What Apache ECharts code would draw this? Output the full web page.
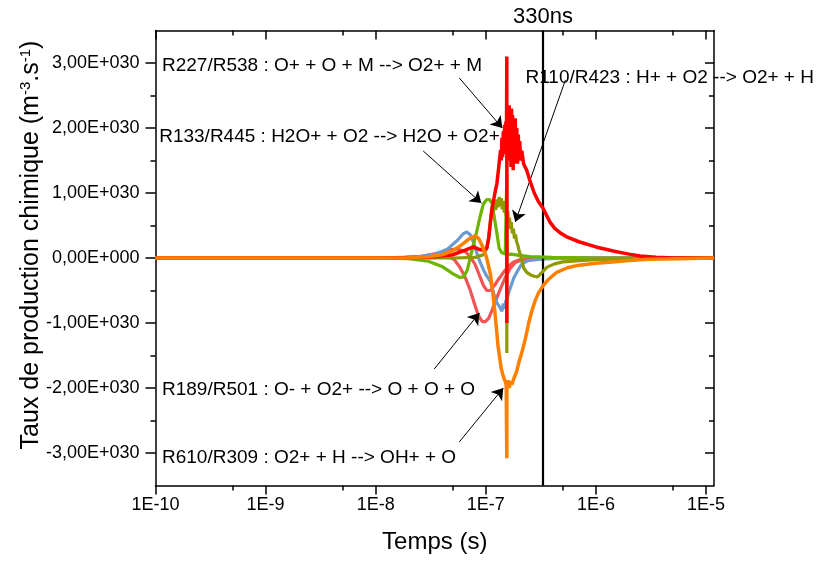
<!DOCTYPE html>
<html><head><meta charset="utf-8">
<script src="https://cdn.jsdelivr.net/npm/echarts@6/dist/echarts.min.js"></script>
<style>html,body{margin:0;padding:0;background:#fff}#c{width:822px;height:563px}</style>
</head><body><div id="c"></div>
<script>
// ---------- DATA (time in s, rate in units of 1E+030 m-3.s-1) ----------
const SCALE = 1e30;
const xTickExps = [-10, -9, -8, -7, -6, -5];
const xTickLabels = ['1E-10', '1E-9', '1E-8', '1E-7', '1E-6', '1E-5'];
const xMinorTimes = [5e-10, 5e-9, 5e-8, 5e-7, 5e-6];
const yTickValues = [-3, -2, -1, 0, 1, 2, 3];
const yTickLabels = ['-3,00E+030', '-2,00E+030', '-1,00E+030', '0,00E+000', '1,00E+030', '2,00E+030', '3,00E+030'];
const yMinorValues = [-2.5, -1.5, -0.5, 0.5, 1.5, 2.5];
const tMin = 1e-10, tMax = 1.18e-5;
const yMin = -3.5, yMax = 3.5;
const markerTime = 3.3e-7; // 330ns

// R227/R538 : O+ + O + M --> O2+ + M
const r227 = [[1e-10,0],[1e-8,0],[3e-8,0.01],[5e-8,0.05],[6.5e-8,0.12],[7.7e-8,0.17],[8.8e-8,0.13],[9.6e-8,0.12],[1.02e-7,0.15],[1.06e-7,0.3],[1.1e-7,0.55],[1.15e-7,0.8],[1.2e-7,0.97],[1.26e-7,1.15],[1.31e-7,1.4],[1.36e-7,1.66],[1.38e-7,1.5],[1.4e-7,1.85],[1.42e-7,1.55],[1.44e-7,1.95],[1.46e-7,1.6],[1.48e-7,2.05],[1.5e-7,1.75],[1.52e-7,2.1],[1.54e-7,1.9],[1.55e-7,3.1],[1.551e-7,-1.0],[1.555e-7,2.0],[1.57e-7,1.55],[1.59e-7,2.3],[1.61e-7,1.5],[1.63e-7,2.35],[1.65e-7,1.7],[1.67e-7,2.25],[1.69e-7,1.4],[1.71e-7,2.3],[1.73e-7,1.75],[1.75e-7,2.2],[1.77e-7,1.35],[1.79e-7,2.1],[1.82e-7,1.6],[1.85e-7,2.15],[1.88e-7,1.45],[1.91e-7,2.0],[1.94e-7,1.45],[1.97e-7,1.9],[2.0e-7,1.5],[2.03e-7,1.8],[2.07e-7,1.5],[2.12e-7,1.65],[2.2e-7,1.45],[2.35e-7,1.35],[2.5e-7,1.2],[2.75e-7,1.0],[3.0e-7,0.87],[3.3e-7,0.77],[3.8e-7,0.56],[4.2e-7,0.46],[4.8e-7,0.38],[5.5e-7,0.32],[7e-7,0.25],[1e-6,0.17],[1.5e-6,0.1],[2e-6,0.06],[2.5e-6,0.03],[3.5e-6,0.01],[5e-6,0],[1.18e-5,0]];
// R610/R309 : O2+ + H --> OH+ + O
const r610 = [[1e-10,0],[1e-8,0],[2e-8,0.005],[3e-8,0.02],[4e-8,0.05],[5e-8,0.11],[6e-8,0.2],[7e-8,0.29],[8e-8,0.34],[8.6e-8,0.3],[9.2e-8,0.2],[9.7e-8,0.1],[1.01e-7,0.02],[1.05e-7,-0.1],[1.1e-7,-0.25],[1.15e-7,-0.5],[1.2e-7,-0.78],[1.25e-7,-1.1],[1.29e-7,-1.35],[1.34e-7,-1.55],[1.38e-7,-1.7],[1.42e-7,-1.78],[1.46e-7,-1.85],[1.5e-7,-1.9],[1.53e-7,-1.95],[1.55e-7,-3.08],[1.552e-7,-1.92],[1.57e-7,-1.97],[1.6e-7,-1.88],[1.63e-7,-2.0],[1.67e-7,-1.9],[1.72e-7,-1.95],[1.8e-7,-1.85],[1.9e-7,-1.75],[2.0e-7,-1.6],[2.15e-7,-1.42],[2.3e-7,-1.22],[2.45e-7,-1.0],[2.6e-7,-0.83],[2.8e-7,-0.66],[3.0e-7,-0.54],[3.3e-7,-0.43],[3.7e-7,-0.33],[4.4e-7,-0.22],[5.5e-7,-0.15],[7e-7,-0.11],[1e-6,-0.08],[1.4e-6,-0.06],[2e-6,-0.04],[3e-6,-0.02],[5.7e-6,-0.01],[1.18e-5,0]];
// R133/R445 : H2O+ + O2 --> H2O + O2+
const r133 = [[1e-10,0],[1e-8,0],[2e-8,-0.01],[3e-8,-0.05],[4e-8,-0.13],[5e-8,-0.24],[5.8e-8,-0.3],[6.3e-8,-0.29],[6.8e-8,-0.18],[7.2e-8,0.0],[7.7e-8,0.2],[8.3e-8,0.42],[8.9e-8,0.65],[9.5e-8,0.83],[1.02e-7,0.9],[1.08e-7,0.9],[1.14e-7,0.84],[1.2e-7,0.6],[1.26e-7,0.38],[1.32e-7,0.15],[1.4e-7,0.08],[1.5e-7,0.06],[1.548e-7,0.05],[1.55e-7,1.28],[1.552e-7,0.05],[1.7e-7,0.06],[2e-7,0.04],[2.5e-7,0.02],[4e-7,0.01],[1e-6,0.0],[1.18e-5,0]];
// R110/R423 : H+ + O2 --> O2+ + H
const r110 = [[1e-10,0],[1e-8,0],[5e-8,0.0],[8e-8,0.01],[9.5e-8,0.05],[1.02e-7,0.15],[1.07e-7,0.35],[1.11e-7,0.65],[1.14e-7,0.8],[1.17e-7,0.7],[1.2e-7,0.85],[1.23e-7,0.74],[1.26e-7,0.9],[1.29e-7,0.78],[1.32e-7,0.94],[1.35e-7,0.8],[1.38e-7,0.92],[1.41e-7,0.75],[1.44e-7,0.88],[1.47e-7,0.7],[1.5e-7,0.8],[1.53e-7,0.65],[1.549e-7,0.7],[1.55e-7,-1.46],[1.552e-7,0.62],[1.58e-7,0.72],[1.61e-7,0.5],[1.64e-7,0.62],[1.67e-7,0.45],[1.7e-7,0.55],[1.74e-7,0.38],[1.78e-7,0.45],[1.82e-7,0.3],[1.86e-7,0.36],[1.9e-7,0.25],[1.95e-7,0.2],[2.0e-7,0.12],[2.1e-7,0.0],[2.2e-7,-0.15],[2.35e-7,-0.22],[2.55e-7,-0.26],[2.75e-7,-0.28],[2.95e-7,-0.29],[3.2e-7,-0.23],[3.6e-7,-0.14],[4.2e-7,-0.09],[5e-7,-0.06],[7e-7,-0.04],[1e-6,-0.025],[2e-6,-0.01],[4e-6,0],[1.18e-5,0]];
// blue reaction
const rBlue = [[1e-10,0],[1.5e-8,0],[2.5e-8,0.02],[3.5e-8,0.06],[4.5e-8,0.14],[5.5e-8,0.27],[6.2e-8,0.37],[6.7e-8,0.4],[7.2e-8,0.36],[7.7e-8,0.25],[8.2e-8,0.1],[8.8e-8,-0.05],[9.5e-8,-0.18],[1.02e-7,-0.28],[1.1e-7,-0.36],[1.18e-7,-0.55],[1.26e-7,-0.69],[1.32e-7,-0.74],[1.36e-7,-0.72],[1.4e-7,-0.82],[1.44e-7,-0.7],[1.48e-7,-0.78],[1.52e-7,-0.66],[1.56e-7,-0.62],[1.62e-7,-0.52],[1.7e-7,-0.42],[1.8e-7,-0.3],[1.94e-7,-0.2],[2.1e-7,-0.1],[2.4e-7,-0.04],[3e-7,-0.02],[5e-7,0],[1.18e-5,0]];
// R189/R501 : O- + O2+ --> O + O + O
const r189 = [[1e-10,0],[1.5e-8,0],[2.5e-8,0.01],[3.5e-8,0.03],[4.5e-8,0.03],[5.2e-8,-0.03],[5.8e-8,-0.14],[6.5e-8,-0.3],[7.2e-8,-0.49],[7.8e-8,-0.68],[8.3e-8,-0.82],[8.8e-8,-0.92],[9.3e-8,-0.98],[9.9e-8,-0.98],[1.06e-7,-0.93],[1.14e-7,-0.8],[1.25e-7,-0.62],[1.36e-7,-0.47],[1.5e-7,-0.3],[1.66e-7,-0.16],[1.85e-7,-0.07],[2.2e-7,-0.02],[3e-7,0],[1.18e-5,0]];
// second light-red reaction
const rSalmon = [[1e-10,0],[1.5e-8,0],[2.5e-8,0.02],[3.5e-8,0.07],[4.5e-8,0.12],[5.5e-8,0.14],[6.5e-8,0.1],[7.2e-8,0.02],[8e-8,-0.1],[8.8e-8,-0.28],[9.5e-8,-0.42],[1.02e-7,-0.5],[1.1e-7,-0.5],[1.2e-7,-0.42],[1.3e-7,-0.33],[1.42e-7,-0.24],[1.56e-7,-0.15],[1.75e-7,-0.07],[2e-7,-0.03],[2.6e-7,0],[1.18e-5,0]];

// annotations: label anchor (left, middle) + arrow (tail -> head) in data coordinates [time, value]
const notes = [
  {text: 'R227/R538 : O+ + O + M --> O2+ + M', at: [1.146e-10, 2.95], from: [5.74e-8, 2.77], to: [1.41e-7, 2.0]},
  {text: 'R133/R445 : H2O+ + O2 --> H2O + O2+', at: [1.08e-10, 1.86], from: [2.70e-8, 1.646], to: [9.1e-8, 0.846]},
  {text: 'R110/R423 : H+ + O2 --> O2+ + H', at: [2.29e-7, 2.77], from: [5.28e-7, 2.738], to: [1.85e-7, 0.554]},
  {text: 'R189/R501 : O- + O2+ --> O + O + O', at: [1.146e-10, -2.03], from: [3.40e-8, -1.708], to: [8.73e-8, -0.846]},
  {text: 'R610/R309 : O2+ + H --> OH+ + O', at: [1.146e-10, -3.08], from: [5.74e-8, -2.83], to: [1.44e-7, -2.0]}
];

// ---------- CHART ----------
const lx = t => Math.log10(t);
const FONT = "'Liberation Sans', Arial, sans-serif";
const toData = arr => arr.map(p => [lx(p[0]), p[1] * SCALE]);

const chart = echarts.init(document.getElementById('c'), null, {renderer: 'canvas'});
const black = '#000';
const baseX = {type: 'value', min: lx(tMin), max: lx(tMax), splitLine: {show: false}, gridIndex: 0};
const baseY = {type: 'value', min: yMin * SCALE, max: yMax * SCALE, splitLine: {show: false}, gridIndex: 0};
const majorX = xTickExps;
const minorX = xMinorTimes.map(lx);
const majorY = yTickValues.map(v => v * SCALE);
const minorY = yMinorValues.map(v => v * SCALE);

function lineSeries(name, arr, color, z, w) {
  return {name, type: 'line', data: toData(arr), showSymbol: false, symbol: 'none',
    lineStyle: {color, width: w || 3.2}, z, xAxisIndex: 0, yAxisIndex: 0, animation: false, clip: true};
}

const annoSeries = {
  type: 'line', data: [], xAxisIndex: 0, yAxisIndex: 0, z: 20, animation: false,
  markLine: {
    silent: true, animation: false, symbol: ['none', 'arrow'], symbolSize: 11,
    lineStyle: {color: black, width: 1, type: 'solid'},
    label: {show: false},
    data: notes.map(n => [
      {coord: [lx(n.from[0]), n.from[1] * SCALE]},
      {coord: [lx(n.to[0]), n.to[1] * SCALE]}
    ]).concat([[
      {coord: [lx(markerTime), yMin * SCALE], symbol: 'none', lineStyle: {width: 2.2, color: black},
       label: {show: true, position: 'end', formatter: '330ns', fontSize: 22, color: black, fontFamily: FONT, distance: 3}},
      {coord: [lx(markerTime), yMax * SCALE], symbol: 'none'}
    ]])
  }
};

const option = {
  animation: false,
  backgroundColor: '#fff',
  textStyle: {fontFamily: FONT},
  grid: {left: 155.5, top: 30.5, width: 558.5, height: 455, containLabel: false},
  xAxis: [
    Object.assign({}, baseX, {position: 'bottom',
      axisLine: {show: true, onZero: false, lineStyle: {color: black, width: 1.5}},
      axisTick: {show: true, inside: false, length: 9, customValues: majorX, lineStyle: {color: black, width: 1.5}},
      axisLabel: {show: true, customValues: majorX, margin: 11, fontSize: 18, color: black, fontFamily: FONT,
        formatter: v => xTickLabels[xTickExps.indexOf(Math.round(v))]},
      name: 'Temps (s)', nameLocation: 'middle', nameGap: 45, nameMoveOverlap: false,
      nameTextStyle: {fontSize: 24, color: black, fontFamily: FONT}}),
    Object.assign({}, baseX, {position: 'bottom',
      axisLine: {show: false, onZero: false},
      axisTick: {show: true, inside: false, length: 5, customValues: minorX, lineStyle: {color: black, width: 1.5}},
      axisLabel: {show: false}}),
    Object.assign({}, baseX, {position: 'top',
      axisLine: {show: true, onZero: false, lineStyle: {color: black, width: 1.5}},
      axisTick: {show: true, inside: true, length: 9, customValues: majorX, lineStyle: {color: black, width: 1.5}},
      axisLabel: {show: false}}),
    Object.assign({}, baseX, {position: 'top',
      axisLine: {show: false, onZero: false},
      axisTick: {show: true, inside: true, length: 5, customValues: minorX, lineStyle: {color: black, width: 1.5}},
      axisLabel: {show: false}})
  ],
  yAxis: [
    Object.assign({}, baseY, {position: 'left',
      axisLine: {show: true, onZero: false, lineStyle: {color: black, width: 1.5}},
      axisTick: {show: true, inside: false, length: 10, customValues: majorY, lineStyle: {color: black, width: 1.5}},
      axisLabel: {show: true, customValues: majorY, margin: 16, fontSize: 18, color: black, fontFamily: FONT,
        formatter: v => yTickLabels[yTickValues.indexOf(Math.round(v / SCALE))]},
      name: 'Taux de production chimique (m{s|-3}.s{s|-1})', nameLocation: 'middle', nameGap: 112, nameRotate: 90,
      nameMoveOverlap: false,
      nameTextStyle: {fontSize: 25, color: black, fontFamily: FONT, padding: [0, 0, 0, 26],
        rich: {s: {fontSize: 15, color: black, fontFamily: FONT, verticalAlign: 'top', lineHeight: 16}}}}),
    Object.assign({}, baseY, {position: 'left',
      axisLine: {show: false, onZero: false},
      axisTick: {show: true, inside: false, length: 5, customValues: minorY, lineStyle: {color: black, width: 1.5}},
      axisLabel: {show: false}}),
    Object.assign({}, baseY, {position: 'right',
      axisLine: {show: true, onZero: false, lineStyle: {color: black, width: 1.5}},
      axisTick: {show: true, inside: true, length: 9, customValues: majorY, lineStyle: {color: black, width: 1.5}},
      axisLabel: {show: false}}),
    Object.assign({}, baseY, {position: 'right',
      axisLine: {show: false, onZero: false},
      axisTick: {show: true, inside: true, length: 5, customValues: minorY, lineStyle: {color: black, width: 1.5}},
      axisLabel: {show: false}})
  ],
  series: [
    lineSeries('salmon', rSalmon, '#F05454', 2),
    lineSeries('R189/R501', r189, '#F05454', 3),
    lineSeries('blue', rBlue, '#6A9CD2', 4),
    lineSeries('R133/R445', r133, '#6CB400', 5),
    lineSeries('R110/R423', r110, '#8E9A00', 6),
    lineSeries('R227/R538', r227, '#FF0000', 7, 3.5),
    lineSeries('R610/R309', r610, '#FF8000', 8, 3.5),
    annoSeries
  ]
};
chart.setOption(option);

// annotation texts positioned from data coordinates
chart.setOption({
  graphic: notes.map(n => {
    const p = chart.convertToPixel({xAxisIndex: 0, yAxisIndex: 0}, [lx(n.at[0]), n.at[1] * SCALE]);
    return {type: 'text', x: p[0], y: p[1], z: 30, silent: true,
      style: {text: n.text, fontSize: 19, fontFamily: FONT, fill: black, verticalAlign: 'middle', align: 'left'}};
  })
});
</script>
</body></html>
